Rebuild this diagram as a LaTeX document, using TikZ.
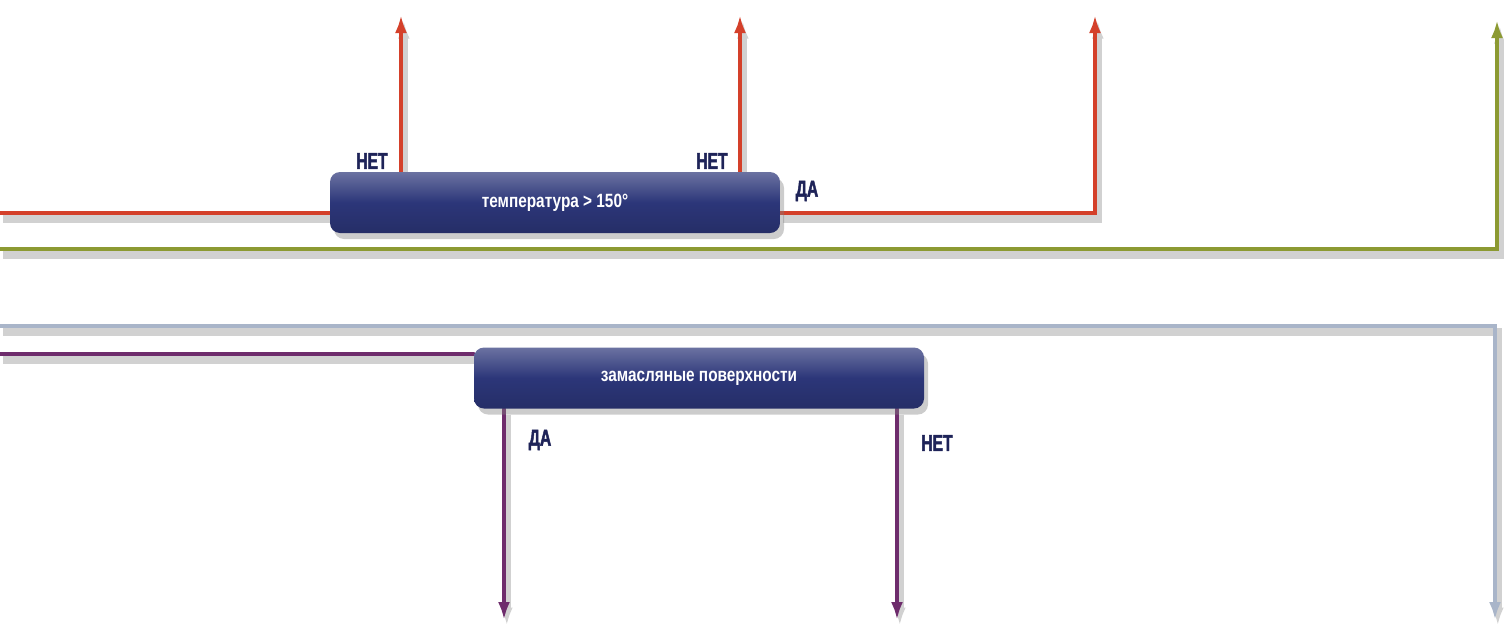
\documentclass[tikz,border=0pt]{standalone}
\usepackage{fontspec}
\usepackage{tikz}
\usetikzlibrary{calc,positioning,arrows.meta,shadows,backgrounds}
\newfontfamily\boxfont{Liberation Sans}[FakeStretch=0.8]
\newfontfamily\tagfont{Liberation Sans}[FakeStretch=0.68,FakeBold=2]
\definecolor{redwire}{HTML}{D4402A}
\definecolor{olivewire}{HTML}{8C9A32}
\definecolor{steelwire}{HTML}{A9B5C9}
\definecolor{plumwire}{HTML}{6E2C6C}
\definecolor{boxblue}{HTML}{2C3679}
\definecolor{tagblue}{HTML}{1E2358}

\begin{document}
\begin{tikzpicture}[x=0.5pt,y=-0.5pt,
    wire/.style={line width=2pt,line cap=round,
        preaction={draw=black!18,line width=4pt,transform canvas={shift={(1.4pt,-2.8pt)}}}},
    tip/.style={-{Latex[length=9pt,width=6pt]}},
    cond/.style={rounded corners=5pt,minimum width=225pt,minimum height=30.5pt,
        draw=none,top color=boxblue!70!white,bottom color=boxblue!85!black,middle color=boxblue,
        text=white,font=\boxfont\bfseries\fontsize{9.6}{11}\selectfont,
        drop shadow={shadow xshift=2pt,shadow yshift=-3pt,opacity=.4}},
    tag/.style={text=tagblue,font=\tagfont\bfseries\fontsize{11.5}{12}\selectfont}]
    \useasboundingbox (0,0) rectangle (1504,627);

    % condition boxes
    \node[cond] (temp) at (555,202.5) {температура > 150°};
    \node[cond] (oil) at (699,378) {замасляные поверхности};

    % coordinates
    \coordinate (inR) at (0,213);
    \coordinate (n1) at (401,15);
    \coordinate (n2) at (740,15);
    \coordinate (r1) at (1095,213);
    \coordinate (r2) at (1095,15);
    \coordinate (inO) at (0,249);
    \coordinate (o1) at (1497,249);
    \coordinate (o2) at (1497,20);
    \coordinate (inS) at (0,326);
    \coordinate (s1) at (1495,326);
    \coordinate (s2) at (1495,620);
    \coordinate (inP) at (0,354);
    \coordinate (p1) at (504,620);
    \coordinate (p2) at (897,620);

    % wires
    \begin{scope}[on background layer]
    \draw[wire,olivewire,tip] (inO) -- (o1) -- (o2);
    \draw[wire,steelwire,tip] (inS) -- (s1) -- (s2);
    \draw[wire,redwire] (inR) -- (inR -| temp.west);
    \draw[wire,redwire,tip] (temp.north -| n1) -- (n1);
    \draw[wire,redwire,tip] (temp.north -| n2) -- (n2);
    \draw[wire,redwire,tip] (r1 -| temp.east) -- (r1) -- (r2);
    \draw[wire,plumwire] (inP) -- (inP -| oil.west);
    \draw[wire,plumwire,tip] (oil.south -| p1) -- (p1);
    \draw[wire,plumwire,tip] (oil.south -| p2) -- (p2);
    \end{scope}

    % answers
    \node[tag] (t1) at (372,161) {НЕТ};
    \node[tag] (t2) at (712,161) {НЕТ};
    \node[tag] (t3) at (807,191) {ДА};
    \node[tag] (t4) at (540,440) {ДА};
    \node[tag] (t5) at (937,443) {НЕТ};
\end{tikzpicture}
\end{document}
